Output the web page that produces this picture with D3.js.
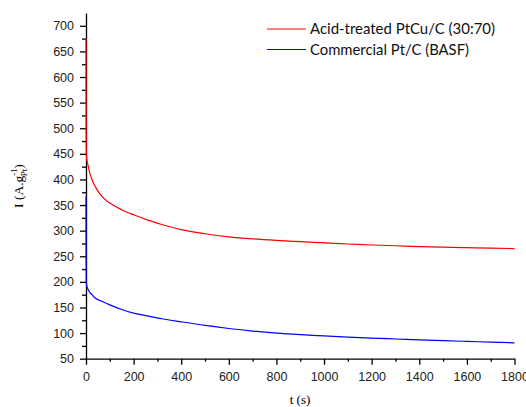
<!DOCTYPE html>
<html>
<head>
<meta charset="utf-8">
<script src="https://cdn.jsdelivr.net/npm/d3@7"></script>
<style>
  body { margin: 0; background: #fff; }
  .axis path, .axis line { stroke: #000; stroke-width: 1.3; }
</style>
</head>
<body>
<svg id="chart" width="526" height="407"></svg>
<script>
// time (s)
const times = [0, 0.5, 1, 3, 8, 15, 25, 40, 67, 100, 150, 200, 263, 319, 400, 500, 600, 700, 800, 900, 1000, 1100, 1200, 1300, 1400, 1500, 1600, 1700, 1800];
// Acid-treated PtCu/C (30:70)
const ptcuValues = [676, 520, 460, 440, 429, 414, 400, 385, 367, 354, 341, 331, 320, 312, 302, 294, 288, 284, 281, 278.5, 276, 274, 272, 270.5, 269, 267.8, 266.8, 265.8, 265];
// Commercial Pt/C (BASF)
const ptcValues = [367, 250, 200, 193, 186, 180, 175, 168, 162, 155, 146, 139, 133, 128, 122, 115, 109, 104, 100, 97, 94.5, 92.2, 90.2, 88.5, 86.8, 85.2, 83.8, 82.4, 81];

const seriesNames = ["Acid-treated PtCu/C (30:70)", "Commercial Pt/C (BASF)"];
const seriesColors = ["#ff0000", "#0000ff"];
const legendWidths = [185, 159];
const xTicks = [0, 200, 400, 600, 800, 1000, 1200, 1400, 1600, 1800];
const yTicks = [50, 100, 150, 200, 250, 300, 350, 400, 450, 500, 550, 600, 650, 700];

const svg = d3.select("#chart");

const x = d3.scaleLinear().domain([0, 1800]).range([86, 514.5]);
const y = d3.scaleLinear().domain([50, 725]).range([358.7, 13]);

function styleTicks(g) {
  g.attr("font-family", null).attr("font-size", null);
  g.selectAll("text")
    .style("font-family", "'Liberation Sans', Arial, sans-serif")
    .style("font-size", "12.5px")
    .style("fill", "#222");
}

// minor ticks
svg.append("g")
  .attr("class", "axis")
  .attr("transform", "translate(0,358.7)")
  .call(d3.axisBottom(x).tickValues(d3.range(100, 1800, 200)).tickSize(3).tickFormat(""))
  .select(".domain").remove();
svg.append("g")
  .attr("class", "axis")
  .attr("transform", "translate(86,0)")
  .call(d3.axisLeft(y).tickValues(d3.range(75, 725, 50)).tickSize(4).tickFormat(""))
  .select(".domain").remove();

// main axes
svg.append("g")
  .attr("class", "axis")
  .attr("transform", "translate(0,358.7)")
  .call(d3.axisBottom(x).tickValues(xTicks).tickFormat(d3.format("d")).tickSize(6).tickSizeOuter(0).tickPadding(7))
  .call(styleTicks);
svg.append("g")
  .attr("class", "axis")
  .attr("transform", "translate(86,0)")
  .call(d3.axisLeft(y).tickValues(yTicks).tickFormat(d3.format("d")).tickSize(6).tickSizeOuter(0).tickPadding(6))
  .call(styleTicks);

// lines
const line = d3.line()
  .curve(d3.curveMonotoneX)
  .x((d, i) => x(times[i]))
  .y(d => y(d));

[ptcuValues, ptcValues].forEach((vals, k) => {
  svg.append("path")
    .datum(vals)
    .attr("fill", "none")
    .attr("stroke", seriesColors[k])
    .attr("stroke-width", 1.2)
    .attr("d", line);
});

// legend
const legend = svg.append("g");
seriesNames.forEach((name, k) => {
  const ly = 29 + k * 20.5;
  legend.append("line")
    .attr("x1", 267).attr("x2", 306)
    .attr("y1", ly).attr("y2", ly)
    .attr("stroke", seriesColors[k])
    .attr("stroke-width", 1.2);
  legend.append("text")
    .attr("x", 310)
    .attr("y", ly)
    .attr("dy", "0.36em")
    .attr("textLength", legendWidths[k])
    .attr("lengthAdjust", "spacingAndGlyphs")
    .style("font-family", "Lato, 'Open Sans', sans-serif")
    .style("font-size", "15px")
    .style("fill", "#111")
    .text(name);
});

// axis labels
svg.append("text")
  .attr("x", 300)
  .attr("y", 404)
  .attr("text-anchor", "middle")
  .style("font-family", "'Liberation Serif', 'Times New Roman', serif")
  .style("font-size", "13px")
  .text("t (s)");

const yl = svg.append("text")
  .attr("transform", "translate(23,186) rotate(-90)")
  .attr("text-anchor", "middle")
  .style("font-family", "'Liberation Serif', 'Times New Roman', serif")
  .style("font-size", "13.5px");
yl.append("tspan").text("I (A.g");
yl.append("tspan").attr("dy", -6).style("font-size", "9px").text("-1");
yl.append("tspan").attr("dx", -8).attr("dy", 10).style("font-size", "9px").text("Pt");
yl.append("tspan").attr("dy", -4).text(")");
</script>
</body>
</html>
